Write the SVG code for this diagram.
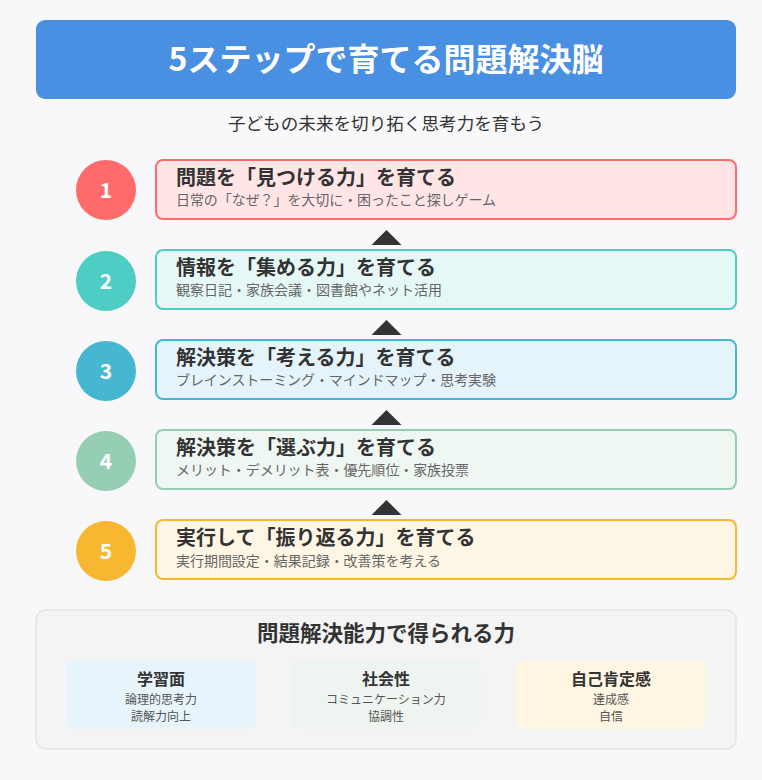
<svg xmlns="http://www.w3.org/2000/svg" width="762" height="780" viewBox="0 0 762 780">
<style>
text{font-family:"Noto Sans CJK JP","Noto Sans",sans-serif}
.main{fill:#fff;font-size:32px;font-weight:700;text-anchor:middle}
.sub{fill:#333;font-size:17.6px;text-anchor:middle}
.num{fill:#fff;font-size:21px;font-weight:700;text-anchor:middle}
.st{fill:#333;font-size:20px;font-weight:700}
.sd{fill:#666;font-size:14px}
.box{stroke-width:2}
.arr{fill:#333}
.bt{fill:#333;font-size:21.5px;font-weight:700;text-anchor:middle}
.ct{fill:#333;font-size:16px;font-weight:700;text-anchor:middle}
.cd{fill:#555;font-size:12px;text-anchor:middle}
</style>
<rect width="762" height="780" fill="#f8f8fa"/>
<g id="header">
<rect x="36" y="20" width="700" height="79" rx="9" fill="#4A90E2"/>
<text class="main" x="386" y="71">5ステップで育てる問題解決脳</text>
<text class="sub" x="386" y="130">子どもの未来を切り拓く思考力を育もう</text>
</g>
<g id="connectors">
<polygon class="arr" points="371.5,245 401.5,245 386.5,230"/>
<polygon class="arr" points="371.5,335 401.5,335 386.5,320"/>
<polygon class="arr" points="371.5,425 401.5,425 386.5,410"/>
<polygon class="arr" points="371.5,515 401.5,515 386.5,500"/>
</g>
<g id="step1">
<circle cx="106" cy="190" r="30" fill="#FF6B6B"/>
<text class="num" x="106" y="198">1</text>
<rect class="box" x="156" y="160" width="580" height="59" rx="7" fill="#FFE5E6" stroke="#FF6B6B"/>
<text class="st" x="176" y="185">問題を「見つける力」を育てる</text>
<text class="sd" x="176" y="205" textLength="320" lengthAdjust="spacing">日常の「なぜ？」を大切に・困ったこと探しゲーム</text>
</g>
<g id="step2">
<circle cx="106" cy="281" r="30" fill="#4ECDC4"/>
<text class="num" x="106" y="289">2</text>
<rect class="box" x="156" y="250" width="580" height="59" rx="7" fill="#E5F8F6" stroke="#4ECDC4"/>
<text class="st" x="176" y="275">情報を「集める力」を育てる</text>
<text class="sd" x="176" y="295" textLength="266" lengthAdjust="spacing">観察日記・家族会議・図書館やネット活用</text>
</g>
<g id="step3">
<circle cx="106" cy="371" r="30" fill="#45B7D1"/>
<text class="num" x="106" y="379">3</text>
<rect class="box" x="156" y="340" width="580" height="59" rx="7" fill="#E5F4FA" stroke="#45B7D1"/>
<text class="st" x="176" y="365">解決策を「考える力」を育てる</text>
<text class="sd" x="176" y="385" textLength="320" lengthAdjust="spacing">ブレインストーミング・マインドマップ・思考実験</text>
</g>
<g id="step4">
<circle cx="106" cy="461" r="30" fill="#96CEB4"/>
<text class="num" x="106" y="469">4</text>
<rect class="box" x="156" y="430" width="580" height="59" rx="7" fill="#EEF7F2" stroke="#96CEB4"/>
<text class="st" x="176" y="455">解決策を「選ぶ力」を育てる</text>
<text class="sd" x="176" y="475" textLength="293" lengthAdjust="spacing">メリット・デメリット表・優先順位・家族投票</text>
</g>
<g id="step5">
<circle cx="106" cy="551" r="30" fill="#F7B731"/>
<text class="num" x="106" y="559">5</text>
<rect class="box" x="156" y="520" width="580" height="59" rx="7" fill="#FEF6E5" stroke="#F7B731"/>
<text class="st" x="176" y="545">実行して「振り返る力」を育てる</text>
<text class="sd" x="176" y="566" textLength="265" lengthAdjust="spacing">実行期間設定・結果記録・改善策を考える</text>
</g>
<g id="benefits">
<rect x="36" y="610" width="700" height="139" rx="10" fill="#f4f4f4" stroke="#e4e4e4" stroke-width="1.5"/>
<text class="bt" x="386" y="641">問題解決能力で得られる力</text>
</g>
<g id="card1">
<rect x="66" y="660" width="190" height="69" rx="8" fill="#E7F4FC"/>
<text class="ct" x="161" y="685">学習面</text>
<text class="cd" x="161" y="703.5">論理的思考力</text>
<text class="cd" x="161" y="720.5">読解力向上</text>
</g>
<g id="card2">
<rect x="291" y="660" width="190" height="69" rx="8" fill="#EEF5F0"/>
<text class="ct" x="386" y="685">社会性</text>
<text class="cd" x="386" y="703.5">コミュニケーション力</text>
<text class="cd" x="386" y="720.5">協調性</text>
</g>
<g id="card3">
<rect x="516" y="660" width="190" height="69" rx="8" fill="#FEF5E3"/>
<text class="ct" x="611" y="685">自己肯定感</text>
<text class="cd" x="611" y="703.5">達成感</text>
<text class="cd" x="611" y="720.5">自信</text>
</g>
</svg>
